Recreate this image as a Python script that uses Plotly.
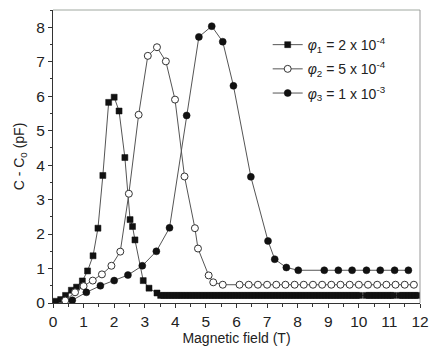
import plotly.graph_objects as go

# Series 1: phi1 = 2e-4 (filled squares)
x1 = [0.08, 0.25, 0.41, 0.60, 0.77, 0.96, 1.13, 1.31, 1.47, 1.63, 1.82, 2.00, 2.16, 2.35,
      2.52, 2.60, 2.68, 2.95, 3.14, 3.40,
      3.52, 3.62, 3.72, 3.82, 3.92, 4.02, 4.12, 4.22, 4.32, 4.42, 4.52, 4.62, 4.72, 4.82,
      4.92, 5.02, 5.12, 5.22, 5.32, 5.42, 5.52, 5.62, 5.72, 5.82, 5.92, 6.02, 6.12, 6.22,
      6.32, 6.42, 6.52, 6.62, 6.72, 6.82, 6.92, 7.02, 7.12, 7.22, 7.32, 7.42, 7.52, 7.62,
      7.72, 7.82, 7.92, 8.02, 8.12, 8.22, 8.32, 8.42, 8.52, 8.62, 8.72, 8.82, 8.92, 9.02,
      9.12, 9.22, 9.32, 9.42, 9.52, 9.62, 9.72, 9.82, 9.92, 10.02, 10.24, 10.34, 10.44,
      10.54, 10.64, 10.74, 10.84, 10.94, 11.04, 11.12, 11.33, 11.43, 11.53, 11.63, 11.73,
      11.83, 11.93]
y1 = [0.05, 0.10, 0.22, 0.37, 0.46, 0.64, 0.93, 1.37, 2.17, 3.70, 5.82, 5.97, 5.57, 4.22,
      2.42, 2.22, 1.83, 0.65, 0.43, 0.29,
      0.22, 0.22, 0.22, 0.22, 0.22, 0.22, 0.22, 0.22, 0.22, 0.22, 0.22, 0.22, 0.22, 0.22,
      0.22, 0.22, 0.22, 0.22, 0.22, 0.22, 0.22, 0.22, 0.22, 0.22, 0.22, 0.22, 0.22, 0.22,
      0.22, 0.22, 0.22, 0.22, 0.22, 0.22, 0.22, 0.22, 0.22, 0.22, 0.22, 0.22, 0.22, 0.22,
      0.22, 0.22, 0.22, 0.22, 0.22, 0.22, 0.22, 0.22, 0.22, 0.22, 0.22, 0.22, 0.22, 0.22,
      0.22, 0.22, 0.22, 0.22, 0.22, 0.22, 0.22, 0.22, 0.22, 0.22, 0.22, 0.22, 0.22,
      0.22, 0.22, 0.22, 0.22, 0.22, 0.22, 0.22, 0.22, 0.22, 0.22, 0.22, 0.22,
      0.22, 0.22]

# Series 2: phi2 = 5e-4 (open circles)
x2 = [0.40, 0.72, 1.00, 1.30, 1.60, 1.91, 2.20, 2.48, 2.80, 3.10, 3.40, 3.69, 3.99, 4.30,
      4.64, 4.74, 5.09, 5.24, 5.55,
      6.10, 6.40, 6.70, 7.00, 7.30, 7.60, 7.90, 8.20, 8.50, 8.80, 9.10, 9.40, 9.70, 10.00,
      10.30, 10.60, 10.90, 11.20, 11.50, 11.80]
y2 = [0.07, 0.31, 0.49, 0.65, 0.83, 1.08, 1.49, 3.17, 5.46, 7.17, 7.42, 7.01, 5.90, 3.67,
      2.17, 1.58, 0.80, 0.60, 0.53,
      0.53, 0.53, 0.53, 0.53, 0.53, 0.53, 0.53, 0.53, 0.53, 0.53, 0.53, 0.53, 0.53, 0.53,
      0.53, 0.53, 0.53, 0.53, 0.53, 0.53]

# Series 3: phi3 = 1e-3 (filled circles)
x3 = [0.63, 1.09, 1.55, 2.00, 2.45, 2.92, 3.38, 3.81, 4.37, 4.77, 5.19, 5.55, 5.90, 6.47,
      7.03, 7.25, 7.63, 8.02, 8.87, 9.33, 9.78, 10.25, 10.70, 11.17, 11.62]
y3 = [0.08, 0.31, 0.50, 0.65, 0.81, 1.08, 1.50, 2.18, 5.44, 7.72, 8.03, 7.58, 6.30, 3.66,
      1.80, 1.27, 1.03, 0.95, 0.95, 0.95, 0.95, 0.95, 0.95, 0.95, 0.95]

names = ["<i>φ</i><sub>1</sub> = 2 x 10<sup>-4</sup>",
         "<i>φ</i><sub>2</sub> = 5 x 10<sup>-4</sup>",
         "<i>φ</i><sub>3</sub> = 1 x 10<sup>-3</sup>"]

x_ticks = list(range(0, 13))
y_ticks = list(range(0, 9))

FONT = "Liberation Sans, Arial, sans-serif"
LINE = "#555555"

fig = go.Figure()
fig.add_trace(go.Scatter(x=x1, y=y1, mode="lines+markers", name=names[0], legendgroup="a",
                         line=dict(color=LINE, width=1),
                         marker=dict(symbol="square", size=6, color="#111111",
                                     line=dict(color="#111111", width=0.5))))
fig.add_trace(go.Scatter(x=x2, y=y2, mode="lines+markers", name=names[1], legendgroup="b",
                         line=dict(color=LINE, width=1),
                         marker=dict(symbol="circle", size=7, color="white",
                                     line=dict(color="#333333", width=1))))
fig.add_trace(go.Scatter(x=x3, y=y3, mode="lines+markers", name=names[2], legendgroup="c",
                         line=dict(color=LINE, width=1),
                         marker=dict(symbol="circle", size=7, color="#111111",
                                     line=dict(color="#111111", width=0.5))))

axis_common = dict(showgrid=False, zeroline=False, showline=True, linecolor="#333333",
                   linewidth=1, ticks="outside", ticklen=4, tickcolor="#333333",
                   tickfont=dict(family=FONT, size=15.5, color="#222222"))

fig.update_xaxes(range=[0, 12], tickvals=x_ticks, **axis_common,
                 minor=dict(dtick=0.5, ticks="outside", ticklen=2.5, tickcolor="#333333"),
                 title=dict(text="Magnetic field (T)", font=dict(family=FONT, size=14, color="#222222"),
                            standoff=3))
fig.update_yaxes(range=[0, 8.5], tickvals=y_ticks, **axis_common,
                 minor=dict(dtick=0.5, ticks="outside", ticklen=2.5, tickcolor="#333333"),
                 title=dict(text="C - C<sub>0</sub> (pF)", font=dict(family=FONT, size=14, color="#222222"),
                            standoff=8))

fig.add_shape(type="line", xref="paper", yref="paper", x0=0, x1=1, y0=1, y1=1,
              line=dict(color="#a0a8a0", width=1))
fig.add_shape(type="line", xref="paper", yref="paper", x0=1, x1=1, y0=0, y1=1,
              line=dict(color="#999999", width=1))

fig.update_layout(
    width=440, height=352,
    margin=dict(l=53, r=20, t=10, b=47),
    plot_bgcolor="white", paper_bgcolor="white",
    font=dict(family=FONT, size=14, color="#222222"),
    legend=dict(x=0.585, y=0.935, xanchor="left", yanchor="top",
                bgcolor="rgba(0,0,0,0)", font=dict(family=FONT, size=14, color="#222222"),
                tracegroupgap=3, itemwidth=30),
    showlegend=True,
)

fig.write_html("out.html")
